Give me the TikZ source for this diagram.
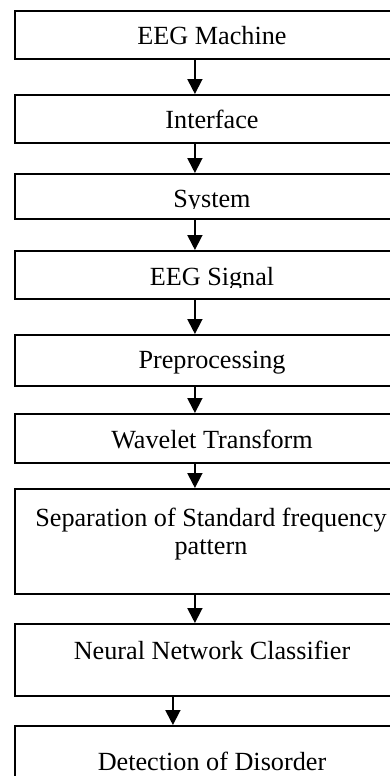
\documentclass[tikz,border=0pt]{standalone}
\usepackage{fontspec}
\setmainfont{Liberation Serif}
\usetikzlibrary{arrows.meta}
\begin{document}
\begin{tikzpicture}[x=1pt,y=-1pt,
  box/.style={draw=black,line width=1.8pt,minimum width=396pt,inner sep=0pt,anchor=north west},
  lbl/.style={anchor=base,inner sep=0pt,font=\fontsize{26.2}{29}\selectfont},
  arr/.style={line width=1.8pt,-{Triangle[length=15pt,width=15pt]}}]
\useasboundingbox (0,0) rectangle (390,776);
\clip (0,0) rectangle (390,776);
\node[box,minimum height=48pt]  (b1) at (14,10) {};
\node[box,minimum height=48pt]  (b2) at (14,94) {};
\node[box,minimum height=45pt]  (b3) at (14,173) {};
\node[box,minimum height=48pt]  (b4) at (14,250) {};
\node[box,minimum height=51pt]  (b5) at (14,334) {};
\node[box,minimum height=49pt]  (b6) at (14,413) {};
\node[box,minimum height=105pt] (b7) at (14,488) {};
\node[box,minimum height=72pt]  (b8) at (14,623) {};
\node[box,minimum height=90pt]  (b9) at (14,725) {};
\node[lbl] (t1) at (212,45) {EEG Machine};
\node[lbl] (t2) at (212,128) {Interface};
\begin{scope}
\clip (0,173) rectangle (390,208.5);
\node[lbl] (t3) at (212,207) {System};
\end{scope}
\begin{scope}
\clip (0,250) rectangle (390,287);
\node[lbl] (t4) at (212,285) {EEG Signal};
\end{scope}
\node[lbl] (t5) at (212,368) {Preprocessing};
\node[lbl] (t6) at (212,448) {Wavelet Transform};
\node[lbl] (t7a) at (211,526) {Separation of Standard frequency};
\node[lbl] (t7b) at (211,554) {pattern};
\node[lbl] (t8) at (212,659) {Neural Network Classifier};
\node[lbl] (t9) at (212,770) {Detection of Disorder};
\foreach \a/\b in {b1/b2,b2/b3,b3/b4,b4/b5,b5/b6,b6/b7,b7/b8}
  \draw[arr] ([xshift=-18pt]\a.south) -- ([xshift=-18pt]\b.north);
\draw[arr] ([xshift=-40pt]b8.south) -- ([xshift=-40pt]b9.north);
\end{tikzpicture}
\end{document}
